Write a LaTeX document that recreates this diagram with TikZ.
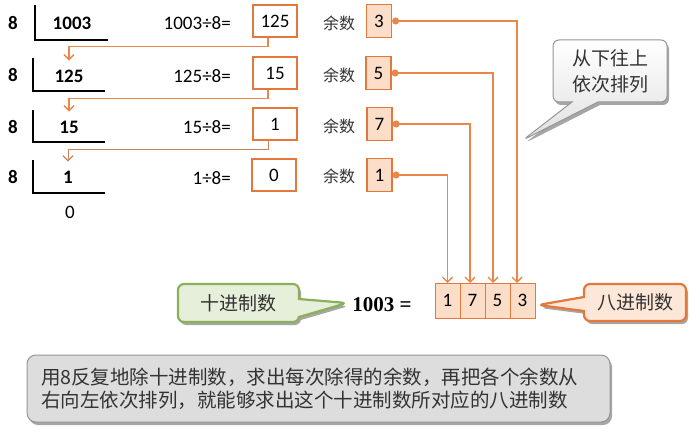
\documentclass[tikz,border=0pt]{standalone}
\usepackage{fontspec}
\setmainfont{Carlito}
\newfontfamily\cjk{Noto Sans CJK SC}
\newfontfamily\bserif{Liberation Serif}
\usetikzlibrary{positioning,arrows.meta,shapes.callouts,shadows}

\definecolor{orangeln}{RGB}{234,134,74}
\definecolor{orangebd}{RGB}{226,120,60}
\definecolor{peach}{RGB}{251,221,200}
\definecolor{greenbd}{RGB}{140,175,90}
\definecolor{greenfl}{RGB}{230,239,218}
\definecolor{grayfl}{RGB}{221,221,221}
\definecolor{graybd}{RGB}{150,150,150}
\definecolor{orangefl}{RGB}{252,231,216}

\begin{document}
\begin{tikzpicture}[x=1pt, y=-1pt,
    num/.style={font=\fontsize{19}{22}\selectfont, inner sep=1pt},
    bnum/.style={inner sep=1pt, font=\fontsize{19}{22}\selectfont\bfseries},
    qbox/.style={draw=orangebd, line width=1.6pt, minimum width=44pt, minimum height=32pt, inner sep=0pt, font=\fontsize{19}{22}\selectfont},
    rbox/.style={draw=orangebd, fill=peach, line width=1.2pt, minimum width=25pt, minimum height=33pt, inner sep=0pt, font=\fontsize{19}{22}\selectfont},
    obox/.style={rbox, line width=1pt, minimum width=25pt, minimum height=35pt, outer sep=0pt},
    lbl/.style={font=\cjk\fontsize{16}{19}\selectfont, text=black!80},
    shade/.style={drop shadow={shadow xshift=2pt, shadow yshift=-3pt, opacity=0.35, fill=black}},
    tag/.style={rectangle callout, rounded corners=6pt, shade, align=center, inner sep=0pt, font=\cjk\fontsize{19}{26}\selectfont, text=black!80},
    link/.style={draw=orangeln, line width=1.3pt},
    flow/.style={link, -{Straight Barb[length=5pt, width=10pt, line width=1.3pt]}},
    dotlink/.style={link, {Circle[length=7pt, width=7pt]}-{Straight Barb[length=5pt, width=10pt, line width=1.3pt]}}]
  \useasboundingbox (0,0) rectangle (700,438);

  % division column
  \foreach \y [count=\i] in {23,75,127,177}
    \node[bnum] (k\i) at (13,\y) {8};
  \foreach \xa/\ya/\yb/\xb in {35/5/40/108, 33/58/91/105, 33/110/142/105, 33/160/193/105}
    \draw[line width=1.2pt] (\xa,\ya) |- (\xb,\yb);
  \node[bnum] (dv1) at (72,23) {1003};
  \node[bnum] (dv2) at (69,76) {125};
  \node[bnum] (dv3) at (69,127) {15};
  \node[bnum] (dv4) at (68,177) {1};
  \node[num] (dv5) at (70,212) {0};

  % quotients
  \node[num, anchor=east] (e1) at (232,23) {1003÷8=};
  \node[num, anchor=east] (e2) at (232,76) {125÷8=};
  \node[num, anchor=east] (e3) at (232,127) {15÷8=};
  \node[num, anchor=east] (e4) at (232,178) {1÷8=};
  \node[qbox] (q1) at (275,21) {125};
  \node[qbox] (q2) at (275,73) {15};
  \node[qbox] (q3) at (275,124) {1};
  \node[qbox] (q4) at (274,175) {0};

  % remainders
  \node[lbl] (l1) at (339,23) {余数};
  \node[lbl] (l2) at (339,75) {余数};
  \node[lbl] (l3) at (339,126) {余数};
  \node[lbl] (l4) at (339,176) {余数};
  \node[rbox] (r1) at (379,21) {3};
  \node[rbox] (r2) at (378.5,73) {5};
  \node[rbox] (r3) at (379.5,124) {7};
  \node[rbox] (r4) at (379.5,175) {1};

  % result
  \node[obox] (o1) at (447.5,300.5) {1};
  \node[obox, right=0pt of o1] (o2) {7};
  \node[obox, right=0pt of o2] (o3) {5};
  \node[obox, right=0pt of o3] (o4) {3};
  \node[inner sep=1pt, font=\bserif\fontsize{21}{25}\selectfont\bfseries] (dec) at (382,305) {1003 =};

  % callouts
  \coordinate (tipnote) at (523,140);
  \coordinate (tipdec) at (347,303);
  \coordinate (tipoct) at (538,305);
  \node[tag, top color=white, bottom color=black!12, draw=graybd, line width=1pt,
        minimum width=114pt, minimum height=62pt, callout pointer width=26pt,
        callout absolute pointer=(tipnote)] (note) at (610,71) {从下往上\\依次排列};
  \node[tag, fill=greenfl, draw=greenbd, line width=2.2pt,
        minimum width=121pt, minimum height=38pt, callout pointer width=18pt,
        callout absolute pointer=(tipdec)] (deccall) at (238.5,303) {十进制数};
  \node[tag, fill=orangefl, draw=orangebd, line width=2.2pt,
        minimum width=102pt, minimum height=37pt, callout pointer width=14pt,
        callout absolute pointer=(tipoct)] (octcall) at (635,302.5) {八进制数};

  % summary
  \node[draw=graybd, fill=grayfl, line width=1pt, rounded corners=9pt, shade,
        minimum width=583pt, minimum height=67pt, text width=555pt, align=left,
        font=\cjk\fontsize{19.5}{23}\selectfont, text=black!80] (sum) at (318.5,388.5)
        {用8反复地除十进制数，求出每次除得的余数，再把各个余数从\\右向左依次排列，就能够求出这个十进制数所对应的八进制数};

  % connectors
  \draw[flow] ([xshift=-7pt]q1.south) -- ++(0,9) -| ([yshift=8pt]dv2.north);
  \draw[flow] ([xshift=-7pt]q2.south) -- ++(0,9) -| ([yshift=8pt]dv3.north);
  \draw[flow, line width=0.8pt, draw=orangeln!70!gray] ([xshift=-7pt]q3.south) -- ++(0,9) -| ([yshift=8pt]dv4.north);
  \draw[dotlink] (r1.east) -| ([xshift=-5.5pt]o4.north);
  \draw[dotlink] (r2.east) -| ([xshift=-4.5pt]o3.north);
  \draw[dotlink] (r3.east) -| ([xshift=-2.5pt]o2.north);
  \draw[dotlink] (r4.east) -| (o1.north);
\end{tikzpicture}
\end{document}
